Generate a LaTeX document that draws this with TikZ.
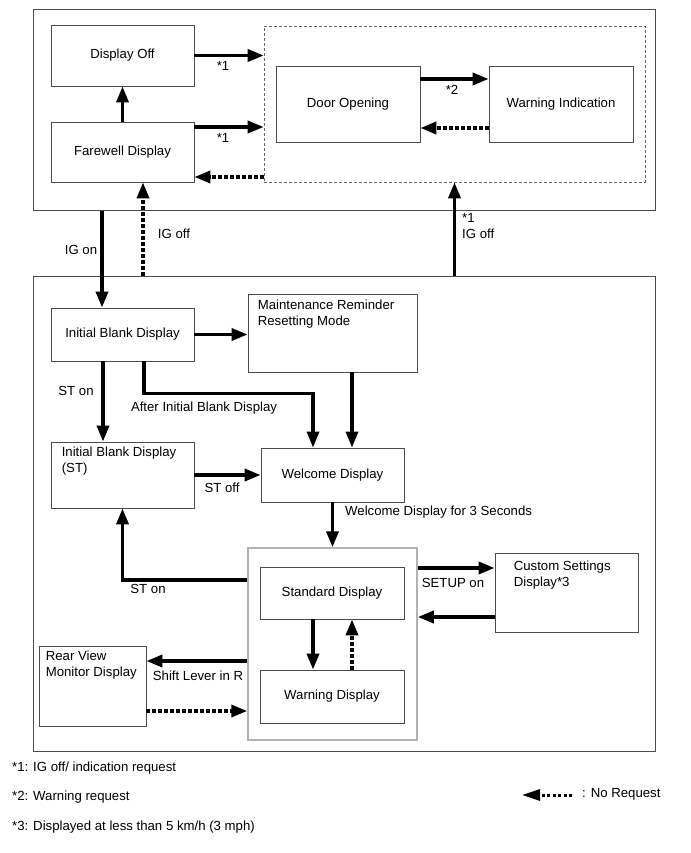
\documentclass[tikz,border=0pt]{standalone}
\usepackage{fontspec}
\setmainfont{Liberation Sans}
\usetikzlibrary{arrows.meta}

\begin{document}
\begin{tikzpicture}[x=1pt, y=-1pt,
    font=\fontsize{13.2}{16}\selectfont,
    disp/.style={rectangle, draw=black!70, line width=0.8pt, minimum width=143pt, minimum height=60pt, align=center, inner sep=0pt},
    group/.style={rectangle, draw=black!70, line width=1pt, inner sep=0pt},
    corner/.style={inner sep=0pt, anchor=north west, align=left},
    arrow/.style={-{Triangle[length=16pt,width=12pt]}, line width=3.5pt},
    darrow/.style={arrow, dash pattern=on 3.5pt off 2.5pt},
    lbl/.style={inner sep=0pt},
    note/.style={inner sep=0pt, anchor=west},
]
\useasboundingbox (0,0) rectangle (690,853);

% outer frames
\node[group, minimum width=622pt, minimum height=200pt] (top) at (344,110) {};
\node[group, minimum width=622pt, minimum height=475pt] (low) at (344,513.5) {};
\node[rectangle, draw=black!60, dashed, dash pattern=on 3pt off 2pt, line width=0.6pt, minimum width=381pt, minimum height=156pt] (door) at (454.5,104) {};

% top states
\node[disp, minimum height=61pt] (doff) at (122.5,55.5) {Display Off};
\node[disp] (fare) at (122.5,152) {Farewell Display};
\node[disp, minimum width=144pt, minimum height=76pt] (dopen) at (348,104) {Door Opening};
\node[disp, minimum width=144pt, minimum height=76pt] (warnind) at (561,104) {Warning Indication};

% lower states
\node[disp, minimum height=53pt] (ibd) at (122.5,334.5) {Initial Blank Display};
\node[disp, minimum width=169pt, minimum height=78pt, label={[corner, xshift=10pt, yshift=-6pt]north west:Maintenance Reminder\\Resetting Mode}] (mrrm) at (332.5,333) {};
\node[disp, minimum height=66pt, label={[corner, xshift=11pt, yshift=-5pt]north west:Initial Blank Display\\(ST)}] (ibdst) at (122.5,475) {};
\node[disp, minimum height=54pt] (wel) at (332.5,475) {Welcome Display};
\node[rectangle, draw=black!30, line width=1.5pt, minimum width=169pt, minimum height=192pt] (cont) at (332.5,644) {};
\node[disp, minimum width=144pt, minimum height=52pt] (std) at (332,593) {Standard Display};
\node[disp, minimum width=144pt, minimum height=53pt] (wrn) at (332,696.5) {Warning Display};
\node[disp, minimum width=107pt, minimum height=80pt, label={[corner, xshift=7pt, yshift=-5pt]north west:Rear View\\Monitor Display}] (rvm) at (92.5,686) {};
\node[disp, minimum height=79pt, label={[corner, xshift=19pt, yshift=-8pt]north west:Custom Settings\\Display*3}] (cust) at (566.5,592.5) {};

% top transitions
\draw[arrow] (doff.east) -- (doff.east -| door.west);
\draw[arrow] ([yshift=25pt]fare.east) -- ([yshift=25pt]fare.east -| door.west);
\draw[darrow] ([yshift=-25pt]fare.east -| door.west) -- ([yshift=-25pt]fare.east);
\draw[arrow] (fare.north) -- (doff.south);
\draw[arrow] ([yshift=25pt]dopen.east) -- ([yshift=25pt]dopen.east -| warnind.west);
\draw[darrow] ([yshift=-24pt]warnind.west) -- ([yshift=-24pt]warnind.west -| dopen.east);
\node[lbl] (s1a) at (223,66) {*1};
\node[lbl] (s1b) at (223,138) {*1};
\node[lbl] (s2) at (452,90) {*2};

% between frames
\draw[arrow] ([xshift=-20.5pt]ibd.north |- top.south) -- ([xshift=-20.5pt]ibd.north);
\draw[darrow] ([xshift=20.5pt]fare.south |- low.north) -- ([xshift=20.5pt]fare.south);
\draw[arrow] (door.south |- low.north) -- (door.south);
\node[lbl] (igon) at (81,250) {IG on};
\node[lbl] (igoff) at (174,234) {IG off};
\node[lbl, anchor=west, align=left] (igoff2) at (462,226) {*1\\IG off};

% lower transitions
\draw[arrow] (ibd.east) -- (ibd.east -| mrrm.west);
\draw[arrow] ([xshift=-19.5pt]ibd.south) -- ([xshift=-19.5pt]ibdst.north);
\draw[arrow] ([xshift=21.5pt]ibd.south) -- ++(0,32) -| ([xshift=-19.5pt]wel.north);
\draw[arrow] ([xshift=19.5pt]wel.north |- mrrm.south) -- ([xshift=19.5pt]wel.north);
\draw[arrow] (ibdst.east) -- (wel.west);
\draw[arrow] (wel.south) -- (cont.north);
\draw[arrow] ([yshift=64pt]cont.west) -| (ibdst.south);
\draw[arrow] ([xshift=-19pt]std.south) -- ([xshift=-19pt]wrn.north);
\draw[darrow] ([xshift=20pt]wrn.north) -- ([xshift=20pt]std.south);
\draw[arrow] ([yshift=-17pt]cont.west) -- ([yshift=-17pt]cont.west -| rvm.east);
\draw[darrow] ([yshift=-25pt]rvm.east) -- ([yshift=-25pt]rvm.east -| cont.west);
\draw[arrow] ([yshift=76pt]cont.east) -- ([yshift=76pt]cont.east -| cust.west);
\draw[arrow] ([yshift=-24.5pt]cust.west) -- ([yshift=-24.5pt]cust.west -| cont.east);
\node[lbl] (ston) at (76,391) {ST on};
\node[lbl] (after) at (204,408) {After Initial Blank Display};
\node[lbl] (stoff) at (222,488) {ST off};
\node[lbl, anchor=west] (welsec) at (345,512) {Welcome Display for 3 Seconds};
\node[lbl] (ston2) at (148,589) {ST on};
\node[lbl] (shift) at (198,676) {Shift Lever in R};
\node[lbl] (setup) at (453,583) {SETUP on};

% notes
\node[note] (n1) at (12,768) {*1: IG off/ indication request};
\node[note] (n2) at (12,797) {*2: Warning request};
\node[note] (n3) at (12,827) {*3: Displayed at less than 5 km/h (3 mph)};
\node[note] (noreq) at (582,794) {: No Request};
\coordinate (legtail) at (572,795);
\coordinate (legend) at (522,795);
\draw[-{Triangle[length=18pt,width=11pt]}, line width=3pt, dash pattern=on 3pt off 2.5pt] (legtail) -- (legend);
\end{tikzpicture}
\end{document}
